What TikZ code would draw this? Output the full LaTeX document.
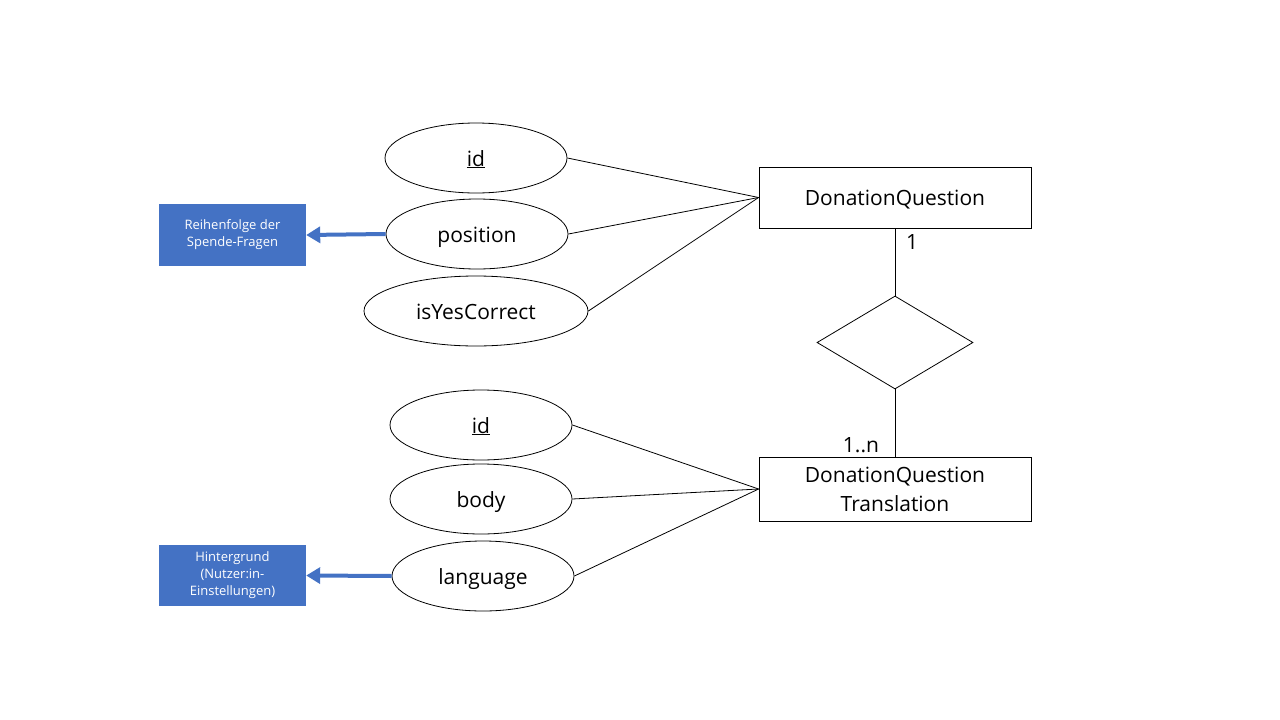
\documentclass[tikz,border=0pt]{standalone}
\usepackage{fontspec}
\setmainfont{Open Sans}
\usetikzlibrary{shapes.geometric,arrows.meta}
\definecolor{boxblue}{HTML}{4472C4}
\tikzset{
  attr/.style={draw=black, line width=0.8pt, ellipse, inner sep=0pt, minimum width=182pt, minimum height=70pt, text height=16pt, text depth=0pt, font=\fontsize{21}{26}\selectfont},
  entity/.style={draw=black, line width=0.8pt, rectangle, inner sep=0pt, minimum width=272pt, align=center, font=\fontsize{21}{29}\selectfont},
  rel/.style={draw=black, line width=0.8pt, diamond, inner sep=0pt, minimum width=156pt, minimum height=93pt},
  note/.style={fill=boxblue, text=white, inner sep=0pt, minimum width=147pt, align=center, font=\fontsize{13}{17}\selectfont},
  link/.style={draw=black, line width=0.8pt},
  bluearrow/.style={draw=boxblue, line width=4pt, -{Triangle[length=14pt,width=16pt]}},
  card/.style={font=\fontsize{21}{26}\selectfont, inner sep=0pt}
}
\begin{document}
\begin{tikzpicture}[x=1pt,y=-1pt]
\useasboundingbox (0,0) rectangle (1280,720);
% upper entity
\node[entity, minimum height=61pt, text height=16pt, text depth=0pt] (dq) at (895,197.5) {DonationQuestion};
\node[attr] (id1) at (476,158) {\underline{id}};
\node[attr] (pos) at (477,234) {position};
\node[attr, minimum width=224pt] (yes) at (476,311) {isYesCorrect};
\draw[link] (id1.east) -- (dq.west);
\draw[link] (pos.east) -- (dq.west);
\draw[link] (yes.east) -- (dq.west);
% relationship
\node[rel] (r) at (895,342.5) {};
% lower entity
\node[entity, minimum height=64pt] (dqt) at (895,489) {DonationQuestion\\Translation};
\node[attr] (id2) at (481,425) {\underline{id}};
\node[attr] (body) at (481,499) {body};
\node[attr] (lang) at (483,576) {language};
\draw[link] (id2.east) -- (dqt.west);
\draw[link] (body.east) -- (dqt.west);
\draw[link] (lang.east) -- (dqt.west);
\draw[link] (dq.south) -- (r.north);
\draw[link] (r.south) -- (dqt.north);
\node[card] (c1) at (912,242) {1};
\node[card] (cn) at (861,445) {1..n};
% notes
\node[note, minimum height=62pt] (n1) at (232.5,235) {Reihenfolge der\\Spende-Fragen};
\node[note, minimum height=61pt] (n2) at (232.5,575.5) {Hintergrund\\(Nutzer:in-\\Einstellungen)};
\draw[bluearrow] (pos.west) -- (n1.east);
\draw[bluearrow] (lang.west) -- (n2.east);
\end{tikzpicture}
\end{document}
